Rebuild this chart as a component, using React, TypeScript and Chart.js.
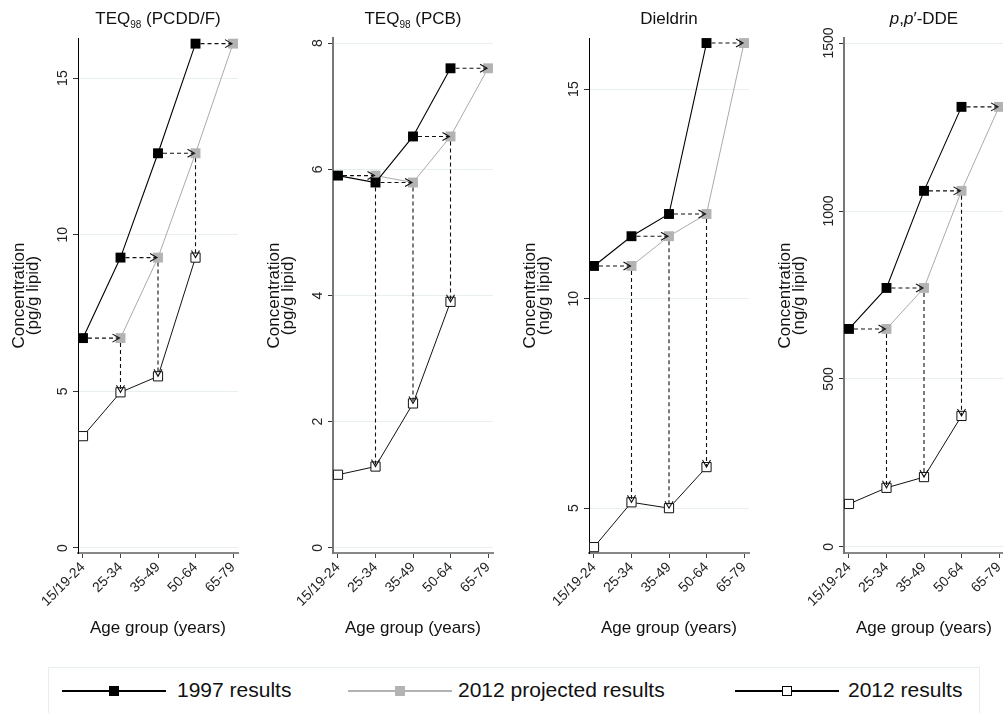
import React, { useEffect, useRef } from 'react';
import { Chart, registerables } from 'chart.js';

Chart.register(...registerables);

const FONT = '"Liberation Sans", Arial, Helvetica, sans-serif';
Chart.defaults.font.family = FONT;

// ---------- data ----------
const AGE_GROUPS = ['15/19-24', '25-34', '35-49', '50-64', '65-79'];
const X_TICKS = [0, 1, 2, 3, 4];

// TEQ98 (PCDD/F), pg/g lipid
const PCDD_1997 = [6.7, 9.27, 12.6, 16.1, null];
const PCDD_PROJ = [null, 6.7, 9.27, 12.6, 16.1];
const PCDD_2012 = [3.57, 4.97, 5.48, 9.27, null];
const PCDD_TICKS = [0, 5, 10, 15];

// TEQ98 (PCB), pg/g lipid
const PCB_1997 = [5.9, 5.79, 6.52, 7.6, null];
const PCB_PROJ = [null, 5.9, 5.79, 6.52, 7.6];
const PCB_2012 = [1.16, 1.29, 2.29, 3.9, null];
const PCB_TICKS = [0, 2, 4, 6, 8];

// Dieldrin, ng/g lipid
const DIEL_1997 = [10.78, 11.49, 12.02, 16.1, null];
const DIEL_PROJ = [null, 10.78, 11.49, 12.02, 16.1];
const DIEL_2012 = [4.07, 5.14, 5.0, 5.98, null];
const DIEL_TICKS = [5, 10, 15];

// p,p'-DDE, ng/g lipid
const DDE_1997 = [649, 771, 1060, 1310, null];
const DDE_PROJ = [null, 649, 771, 1060, 1310];
const DDE_2012 = [128, 176, 208, 390, null];
const DDE_TICKS = [0, 500, 1000, 1500];

const SERIES_NAMES = ['1997 results', '2012 projected results', '2012 results'];

// ---------- layout ----------
const Y_AXIS_W = 78;
const PLOT_W = 160;
const PAD_R = 15;
const CANVAS_W = Y_AXIS_W + PLOT_W + PAD_R;
const CANVAS_H = 643;
const PLOT_TOP = 38;
const X_AXIS_H = 90;

type PanelCfg = {
  key: string;
  title: React.ReactNode;
  axisX: number;
  unit: string;
  yMin: number;
  yMax: number;
  yTicks: number[];
  y1997: (number | null)[];
  yProj: (number | null)[];
  y2012: (number | null)[];
  axisColor: string;
  axisWidth: number;
};

const PANELS: PanelCfg[] = [
  {
    key: 'pcdd',
    title: (<span>TEQ<sub style={{ fontSize: 10, verticalAlign: -4 }}>98</sub> (PCDD/F)</span>),
    axisX: 78, unit: '(pg/g lipid)', yMin: -0.16, yMax: 16.28, yTicks: PCDD_TICKS,
    y1997: PCDD_1997, yProj: PCDD_PROJ, y2012: PCDD_2012, axisColor: '#000', axisWidth: 1,
  },
  {
    key: 'pcb',
    title: (<span>TEQ<sub style={{ fontSize: 10, verticalAlign: -4 }}>98</sub> (PCB)</span>),
    axisX: 333, unit: '(pg/g lipid)', yMin: -0.08, yMax: 8.08, yTicks: PCB_TICKS,
    y1997: PCB_1997, yProj: PCB_PROJ, y2012: PCB_2012, axisColor: '#777', axisWidth: 2,
  },
  {
    key: 'diel',
    title: (<span>Dieldrin</span>),
    axisX: 589, unit: '(ng/g lipid)', yMin: 3.93, yMax: 16.22, yTicks: DIEL_TICKS,
    y1997: DIEL_1997, yProj: DIEL_PROJ, y2012: DIEL_2012, axisColor: '#000', axisWidth: 1,
  },
  {
    key: 'dde',
    title: (<span><i>p</i>,<i>p</i>′-DDE</span>),
    axisX: 844, unit: '(ng/g lipid)', yMin: -18, yMax: 1515, yTicks: DDE_TICKS,
    y1997: DDE_1997, yProj: DDE_PROJ, y2012: DDE_2012, axisColor: '#777', axisWidth: 2,
  },
];

const toPts = (arr: (number | null)[]) =>
  arr.flatMap((v, i) => (v == null ? [] : [{ x: i, y: v }]));

const arrowPlugin = {
  id: 'arrows',
  afterDatasetsDraw(chart: any, _args: any, opts: any) {
    const { y1997, y2012 } = opts;
    if (!y1997) return;
    const xs = chart.scales.x;
    const ys = chart.scales.y;
    const ctx = chart.ctx;
    ctx.save();
    ctx.strokeStyle = '#111';
    ctx.lineWidth = 1.1;
    const head = 7;
    const half = 4;
    for (let i = 0; i < y1997.length; i++) {
      const v = y1997[i];
      if (v == null) continue;
      const x0 = xs.getPixelForValue(i);
      const x1 = xs.getPixelForValue(i + 1);
      const y = ys.getPixelForValue(v);
      // horizontal dashed arrow
      ctx.setLineDash([4, 3]);
      ctx.beginPath();
      ctx.moveTo(x0 + 5, y);
      ctx.lineTo(x1 - 2, y);
      ctx.stroke();
      ctx.setLineDash([]);
      ctx.beginPath();
      ctx.moveTo(x1 - 1 - head, y - half);
      ctx.lineTo(x1 - 1, y);
      ctx.lineTo(x1 - 1 - head, y + half);
      ctx.stroke();
      const w = y2012[i + 1];
      if (w != null) {
        const yb = ys.getPixelForValue(w);
        ctx.setLineDash([4, 3]);
        ctx.beginPath();
        ctx.moveTo(x1, y + 5);
        ctx.lineTo(x1, yb - 1);
        ctx.stroke();
        ctx.setLineDash([]);
        ctx.beginPath();
        ctx.moveTo(x1 - half, yb - head);
        ctx.lineTo(x1, yb);
        ctx.lineTo(x1 + half, yb - head);
        ctx.stroke();
      }
    }
    ctx.restore();
  },
};

function measureWidest(labels: string[], size: number) {
  const c = document.createElement('canvas').getContext('2d');
  if (!c) return 0;
  c.font = `${size}px ${FONT}`;
  return Math.max(...labels.map((l) => c.measureText(l).width));
}

function Panel({ cfg }: { cfg: PanelCfg }) {
  const ref = useRef<HTMLCanvasElement | null>(null);
  useEffect(() => {
    if (!ref.current) return;
    const widest = measureWidest(cfg.yTicks.map(String), 14);
    const tickPad = 10 - widest / 2;
    const chart = new Chart(ref.current, {
      type: 'line',
      data: {
        datasets: [
          {
            label: SERIES_NAMES[2],
            data: toPts(cfg.y2012),
            borderColor: '#111',
            borderWidth: 1,
            pointStyle: 'rect',
            pointRadius: 6.5,
            pointBackgroundColor: '#fff',
            pointBorderColor: '#111',
            pointBorderWidth: 1,
            order: 1,
          },
          {
            label: SERIES_NAMES[0],
            data: toPts(cfg.y1997),
            borderColor: '#000',
            borderWidth: 1.1,
            pointStyle: 'rect',
            pointRadius: 7,
            pointBackgroundColor: '#000',
            pointBorderColor: '#000',
            pointBorderWidth: 0,
            order: 2,
          },
          {
            label: SERIES_NAMES[1],
            data: toPts(cfg.yProj),
            borderColor: '#aaaaaa',
            borderWidth: 1,
            pointStyle: 'rect',
            pointRadius: 7,
            pointBackgroundColor: '#b3b3b3',
            pointBorderColor: '#b3b3b3',
            pointBorderWidth: 0,
            order: 3,
          },
        ],
      },
      options: {
        animation: false,
        responsive: false,
        layout: { padding: { top: PLOT_TOP, right: PAD_R, left: 0, bottom: 0 } },
        plugins: {
          legend: { display: false },
          tooltip: { enabled: false },
          arrows: { y1997: cfg.y1997, y2012: cfg.y2012 },
        } as any,
        scales: {
          x: {
            type: 'linear',
            min: -0.133,
            max: 4.133,
            afterBuildTicks: (s: any) => {
              s.ticks = X_TICKS.map((v) => ({ value: v }));
            },
            afterFit: (s: any) => {
              s.height = X_AXIS_H;
            },
            ticks: {
              autoSkip: false,
              minRotation: 45,
              maxRotation: 45,
              padding: 1,
              color: '#222',
              font: { size: 14 },
              callback: (v: any) => AGE_GROUPS[v as number],
            },
            grid: { drawOnChartArea: false, tickLength: 5, tickColor: '#444', tickWidth: 1 },
            border: { color: '#888', width: 2 },
            title: {
              display: true,
              text: 'Age group (years)',
              color: '#111',
              font: { size: 17 },
              padding: { top: 4, bottom: 4 },
            },
          },
          y: {
            type: 'linear',
            min: cfg.yMin,
            max: cfg.yMax,
            afterBuildTicks: (s: any) => {
              s.ticks = cfg.yTicks.map((v) => ({ value: v }));
            },
            afterFit: (s: any) => {
              s.width = Y_AXIS_W;
            },
            ticks: {
              minRotation: 90,
              maxRotation: 90,
              crossAlign: 'center',
              padding: tickPad,
              color: '#222',
              font: { size: 14 },
              callback: (v: any) => String(v),
            },
            grid: { color: '#e8efef', lineWidth: 1, tickLength: 5, tickColor: '#333', tickWidth: 1 },
            border: { color: cfg.axisColor, width: cfg.axisWidth },
            title: {
              display: true,
              text: ['Concentration', cfg.unit],
              color: '#111',
              font: { size: 17, lineHeight: '14px' },
              padding: { top: 12, bottom: 0 },
            },
          },
        },
      },
      plugins: [arrowPlugin],
    } as any);
    return () => chart.destroy();
  }, [cfg]);

  return (
    <>
      <canvas
        ref={ref}
        width={CANVAS_W}
        height={CANVAS_H}
        style={{ position: 'absolute', left: cfg.axisX - Y_AXIS_W, top: 0, width: CANVAS_W, height: CANVAS_H }}
      />
      <div
        style={{
          position: 'absolute',
          left: cfg.axisX,
          width: PLOT_W,
          top: 8,
          lineHeight: '22px',
          textAlign: 'center',
          fontSize: 17,
          color: '#111',
          whiteSpace: 'nowrap',
        }}
      >
        {cfg.title}
      </div>
    </>
  );
}

function LegendItem({ left, textLeft, color, fill, label }: any) {
  const lineW = 104;
  return (
    <>
      <div style={{ position: 'absolute', left, top: 690, width: lineW, height: 2, background: color }} />
      <div
        style={{
          position: 'absolute',
          left: left + lineW / 2 - 5,
          top: 686,
          width: 8,
          height: 8,
          background: fill,
          border: `1px solid ${color}`,
        }}
      />
      <div style={{ position: 'absolute', left: textLeft, top: 677, fontSize: 21, lineHeight: '26px', color: '#111', whiteSpace: 'nowrap' }}>
        {label}
      </div>
    </>
  );
}

export default function App() {
  return (
    <div
      style={{
        position: 'absolute',
        left: 0,
        top: 0,
        width: 1003,
        height: 713,
        overflow: 'hidden',
        background: '#fff',
        fontFamily: FONT,
      }}
    >
      {PANELS.map((p) => (
        <Panel key={p.key} cfg={p} />
      ))}
      <div
        style={{
          position: 'absolute',
          left: 48,
          top: 667,
          width: 930,
          height: 60,
          border: '1px solid #e6eeee',
        }}
      />
      <LegendItem left={62} textLeft={177} color="#000" fill="#000" label={SERIES_NAMES[0]} />
      <LegendItem left={348} textLeft={458} color="#b3b3b3" fill="#b3b3b3" label={SERIES_NAMES[1]} />
      <LegendItem left={735} textLeft={848} color="#000" fill="#fff" label={SERIES_NAMES[2]} />
    </div>
  );
}
